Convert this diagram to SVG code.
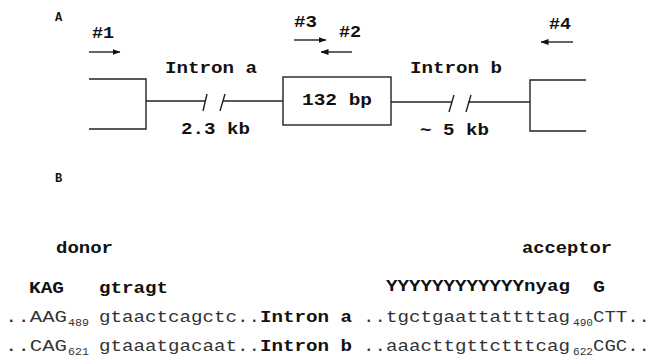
<svg xmlns="http://www.w3.org/2000/svg" width="659" height="362" viewBox="0 0 659 362">
  <defs>
    <marker id="head" viewBox="0 0 8 6" refX="7.5" refY="3" markerWidth="8" markerHeight="6" markerUnits="userSpaceOnUse" orient="auto">
      <path d="M0,0 L8,3 L0,6 Z" fill="#111"/>
    </marker>
    <style>
      .ln { stroke: #222; stroke-width: 1.4; fill: none; }
      .arrow { stroke: #111; stroke-width: 1.3; fill: none; marker-end: url(#head); }
      .b { font-family: "Liberation Mono", monospace; font-weight: bold; font-size: 16px; fill: #111; }
      .lab { font-family: "Liberation Mono", monospace; font-weight: bold; font-size: 12px; fill: #111; }
      .seq { font-family: "Liberation Mono", monospace; font-size: 16px; fill: #333; }
      .sub { font-family: "Liberation Mono", monospace; font-size: 11px; fill: #333; }
    </style>
  </defs>
  <rect width="659" height="362" fill="#fff"/>

  <!-- Panel A: gene structure -->
  <text class="lab" x="55" y="21">A</text>

  <g id="connectors">
    <!-- intron a, broken -->
    <line class="ln" x1="146" y1="101" x2="205" y2="101"/>
    <line class="ln" x1="203" y1="111" x2="207" y2="94"/>
    <line class="ln" x1="220" y1="111" x2="225" y2="94"/>
    <line class="ln" x1="223" y1="101" x2="283" y2="101"/>
    <!-- intron b, broken -->
    <line class="ln" x1="391" y1="102" x2="452" y2="102"/>
    <line class="ln" x1="449" y1="112" x2="454" y2="95"/>
    <line class="ln" x1="466" y1="112" x2="471" y2="95"/>
    <line class="ln" x1="468" y1="102" x2="530" y2="102"/>
  </g>

  <g id="exon-left">
    <path class="ln" d="M89,79 H146 V129 H89"/>
  </g>
  <g id="exon-132">
    <rect class="ln" x="283" y="77" width="108" height="48"/>
    <text class="b" x="302" y="105" textLength="70" lengthAdjust="spacingAndGlyphs">132 bp</text>
  </g>
  <g id="exon-right">
    <path class="ln" d="M586,80 H530 V131 H586"/>
  </g>

  <g id="intron-labels">
    <text class="b" x="165" y="73" textLength="92" lengthAdjust="spacingAndGlyphs">Intron a</text>
    <text class="b" x="181" y="134" textLength="69" lengthAdjust="spacingAndGlyphs">2.3 kb</text>
    <text class="b" x="410" y="73" textLength="92" lengthAdjust="spacingAndGlyphs">Intron b</text>
    <text class="b" x="420" y="135" textLength="69" lengthAdjust="spacingAndGlyphs">~ 5 kb</text>
  </g>

  <!-- primers -->
  <g id="primer-1">
    <text class="b" x="92" y="38" textLength="22" lengthAdjust="spacingAndGlyphs">#1</text>
    <line class="arrow" x1="89" y1="52" x2="120" y2="52"/>
  </g>
  <g id="primer-3">
    <text class="b" x="294" y="27" textLength="23" lengthAdjust="spacingAndGlyphs">#3</text>
    <line class="arrow" x1="294" y1="40" x2="326" y2="40"/>
  </g>
  <g id="primer-2">
    <text class="b" x="339" y="37" textLength="22" lengthAdjust="spacingAndGlyphs">#2</text>
    <line class="arrow" x1="352" y1="52" x2="321" y2="52"/>
  </g>
  <g id="primer-4">
    <text class="b" x="549" y="29" textLength="22" lengthAdjust="spacingAndGlyphs">#4</text>
    <line class="arrow" x1="573" y1="42" x2="541" y2="42"/>
  </g>

  <!-- Panel B: splice sites -->
  <text class="lab" x="55" y="182">B</text>

  <g id="consensus">
    <text class="b" x="56" y="253" textLength="57" lengthAdjust="spacingAndGlyphs">donor</text>
    <text class="b" x="522" y="253" textLength="90" lengthAdjust="spacingAndGlyphs">acceptor</text>
    <text class="b" x="29" y="293" textLength="35" lengthAdjust="spacingAndGlyphs">KAG</text>
    <text class="b" x="99" y="293" textLength="69" lengthAdjust="spacingAndGlyphs">gtragt</text>
    <text class="b" x="386" y="291" textLength="184" lengthAdjust="spacingAndGlyphs">YYYYYYYYYYYYnyag</text>
    <text class="b" x="593" y="292" textLength="12" lengthAdjust="spacingAndGlyphs">G</text>
  </g>

  <g id="intron-a-seq">
    <text class="seq" x="5" y="322" textLength="62" lengthAdjust="spacingAndGlyphs">..AAG</text>
    <text class="sub" x="68" y="326" textLength="21" lengthAdjust="spacingAndGlyphs">489</text>
    <text class="seq" x="99" y="322" textLength="161" lengthAdjust="spacingAndGlyphs">gtaactcagctc..</text>
    <text class="b" x="260" y="322" textLength="92" lengthAdjust="spacingAndGlyphs">Intron a</text>
    <text class="seq" x="363" y="322" textLength="207" lengthAdjust="spacingAndGlyphs">..tgctgaattattttag</text>
    <text class="sub" x="573" y="326" textLength="20" lengthAdjust="spacingAndGlyphs">490</text>
    <text class="seq" x="593" y="322" textLength="57" lengthAdjust="spacingAndGlyphs">CTT..</text>
  </g>

  <g id="intron-b-seq">
    <text class="seq" x="5" y="351" textLength="62" lengthAdjust="spacingAndGlyphs">..CAG</text>
    <text class="sub" x="68" y="355" textLength="21" lengthAdjust="spacingAndGlyphs">621</text>
    <text class="seq" x="99" y="351" textLength="161" lengthAdjust="spacingAndGlyphs">gtaaatgacaat..</text>
    <text class="b" x="260" y="351" textLength="92" lengthAdjust="spacingAndGlyphs">Intron b</text>
    <text class="seq" x="363" y="351" textLength="207" lengthAdjust="spacingAndGlyphs">..aaacttgttctttcag</text>
    <text class="sub" x="573" y="355" textLength="20" lengthAdjust="spacingAndGlyphs">622</text>
    <text class="seq" x="593" y="351" textLength="57" lengthAdjust="spacingAndGlyphs">CGC..</text>
  </g>
</svg>
